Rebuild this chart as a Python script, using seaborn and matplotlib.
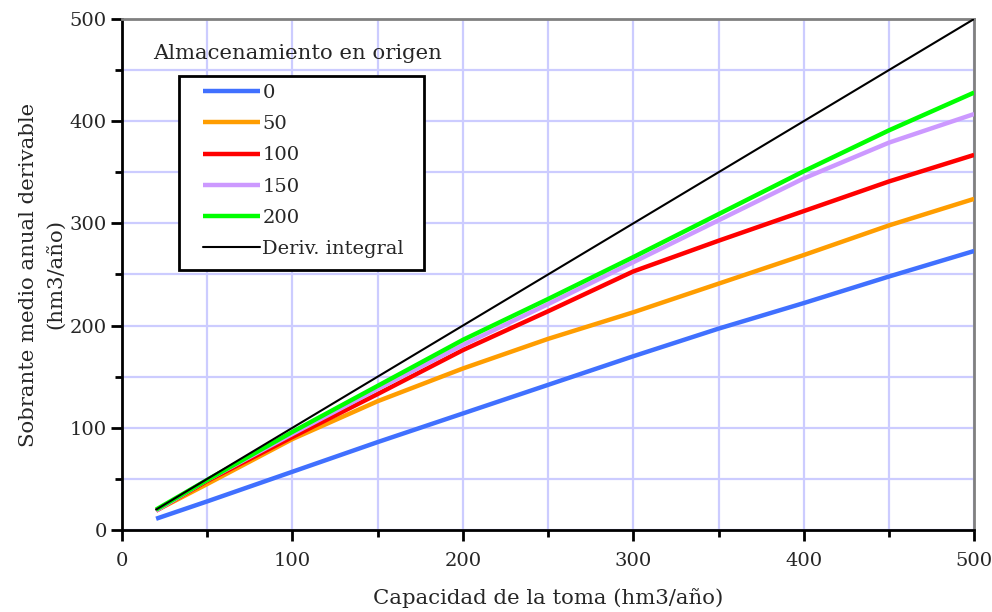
import numpy as np
import pandas as pd
import matplotlib
matplotlib.use("Agg")
import matplotlib.pyplot as plt
from matplotlib.patches import Rectangle
from matplotlib.ticker import MultipleLocator
import seaborn as sns

# Capacidad de la toma (hm3/año)
capacidad = [20, 50, 100, 150, 200, 250, 300, 350, 400, 450, 500]

# Sobrante medio anual derivable por almacenamiento en origen
alm_0 = [11, 28, 57, 86, 114, 142, 170, 197, 222, 248, 273]
alm_50 = [19, 45, 89, 126, 158, 187, 213, 241, 269, 298, 324]
alm_100 = [19, 48, 91, 133, 176, 214, 253, 283, 312, 341, 367]
alm_150 = [19, 49, 94, 138, 181, 221, 262, 303, 344, 379, 407]
alm_200 = [20, 49, 96, 141, 186, 226, 267, 309, 351, 391, 428]
deriv_integral = [20, 50, 100, 150, 200, 250, 300, 350, 400, 450, 500]

series_labels = ["0", "50", "100", "150", "200"]
series_values = [alm_0, alm_50, alm_100, alm_150, alm_200]
series_colors = ["#4070ff", "#ff9d00", "#ff0000", "#cc99ff", "#00ff00"]

sns.set_theme(style="white")
plt.rcParams["font.family"] = ["DejaVu Serif", "Liberation Serif"]

fig, ax = plt.subplots(figsize=(9.92, 6.12), dpi=100)
fig.subplots_adjust(left=0.123, right=0.982, top=0.969, bottom=0.134)

for lab, vals, col in zip(series_labels, series_values, series_colors):
    df = pd.DataFrame({"x": capacidad, "y": vals})
    sns.lineplot(data=df, x="x", y="y", color=col, linewidth=3.2, label=lab, ax=ax,
                 solid_capstyle="butt", zorder=3)

df_int = pd.DataFrame({"x": capacidad, "y": deriv_integral})
sns.lineplot(data=df_int, x="x", y="y", color="black", linewidth=1.5,
             label="Deriv. integral", ax=ax, zorder=4)

ax.set_xlim(0, 500)
ax.set_ylim(0, 500)
ax.xaxis.set_major_locator(MultipleLocator(100))
ax.yaxis.set_major_locator(MultipleLocator(100))
ax.xaxis.set_minor_locator(MultipleLocator(50))
ax.yaxis.set_minor_locator(MultipleLocator(50))
ax.grid(True, which="both", color="#ccccff", linewidth=1.6, zorder=0)
ax.set_axisbelow(True)

ax.tick_params(which="major", direction="out", length=8, width=2, color="black",
               labelsize=14, bottom=True, left=True)
ax.tick_params(axis="x", which="major", pad=8)
ax.tick_params(axis="y", which="major", pad=3)
ax.tick_params(which="minor", direction="out", length=5, width=2, color="black",
               bottom=True, left=True)

for side in ["left", "bottom"]:
    ax.spines[side].set_color("black")
    ax.spines[side].set_linewidth(2)
for side in ["top", "right"]:
    ax.spines[side].set_color("#808080")
    ax.spines[side].set_linewidth(2)

ax.set_xlabel("Capacidad de la toma (hm3/año)", fontsize=15.3, labelpad=13)
ax.set_ylabel("Sobrante medio anual derivable\n(hm3/año)", fontsize=15.3,
              labelpad=3, linespacing=1.5)

# legend box (frame drawn separately to get the wide side padding)
ax.add_patch(Rectangle((0.067, 0.509), 0.287, 0.379, transform=ax.transAxes,
                       facecolor="white", edgecolor="black", linewidth=2, zorder=5))
leg = ax.legend(loc="upper left", bbox_to_anchor=(0.095, 0.873), fontsize=14,
                frameon=False, handlelength=2.95, handletextpad=0.1,
                borderpad=0, labelspacing=0.68, borderaxespad=0)
leg.set_zorder(6)

ax.text(0.036, 0.932, "Almacenamiento en origen", transform=ax.transAxes,
        fontsize=15.3, ha="left", va="center")

fig.savefig("out.png", dpi=100)
